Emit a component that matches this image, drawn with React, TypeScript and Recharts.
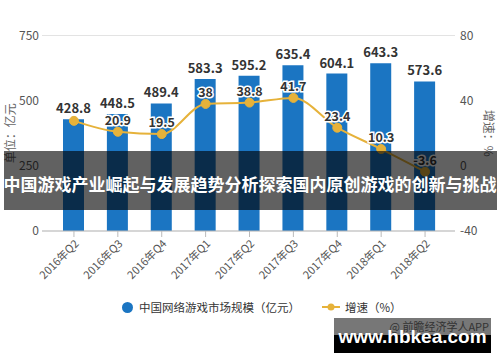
import React from 'react';
import {
  ComposedChart,
  Bar,
  Line,
  XAxis,
  YAxis,
  CartesianGrid,
  LabelList,
} from 'recharts';

const quarters = [
  '2016年Q2',
  '2016年Q3',
  '2016年Q4',
  '2017年Q1',
  '2017年Q2',
  '2017年Q3',
  '2017年Q4',
  '2018年Q1',
  '2018年Q2',
];
const marketSize = [428.8, 448.5, 489.4, 583.3, 595.2, 635.4, 604.1, 643.3, 573.6];
const growth = [27.6, 20.9, 19.5, 38, 38.8, 41.7, 23.4, 10.3, -3.6];
const leftTicks = [0, 250, 500, 750];
const rightTicks = [-40, 0, 40, 80];

const BLUE = '#1b75c2';
const GOLD = '#e6b23a';
const FONT = "'Noto Sans CJK SC', 'Noto Sans', sans-serif";

const data = quarters.map((q, i) => ({ name: q, size: marketSize[i], rate: growth[i] }));

// growth labels get a white halo; the first one sits under the bar label in the source
const renderRateLabel = (props: any) => {
  const { x, y, value, index } = props;
  if (index === 0) return null;
  return (
    <text
      x={x}
      y={y - 7}
      textAnchor="middle"
      fontSize={12.5}
      fontWeight={600}
      fontFamily={FONT}
      fill="#333"
      stroke="#fff"
      strokeWidth={3}
      paintOrder="stroke"
    >
      {value}
    </text>
  );
};

export default function App() {
  return (
    <div
      style={{
        position: 'fixed',
        left: 0,
        top: 0,
        width: 500,
        height: 362,
        background: '#fff',
        overflow: 'hidden',
        fontFamily: FONT,
      }}
    >
      <ComposedChart
        width={500}
        height={362}
        data={data}
        margin={{ top: 35.5, right: 0, bottom: 71, left: 0 }}
      >
        <CartesianGrid vertical={false} stroke="#e3e3e3" />
        <XAxis
          dataKey="name"
          height={60}
          interval={0}
          angle={-45}
          textAnchor="end"
          padding={{ left: 10, right: 8 }}
          tick={{ fontSize: 11, fill: '#555', fontFamily: FONT }}
          stroke="#bbb"
        />
        <YAxis
          yAxisId="left"
          width={42}
          domain={[0, 750]}
          ticks={leftTicks}
          axisLine={false}
          tickLine={false}
          tickSize={0}
          tickMargin={3}
          tick={{ fontSize: 12, fill: '#555', fontFamily: FONT }}
          label={{
            value: '单位：亿元',
            angle: -90,
            position: 'insideLeft',
            offset: 11,
            style: { fontSize: 12, fill: '#666', fontFamily: FONT, textAnchor: 'middle' },
          }}
        />
        <YAxis
          yAxisId="right"
          orientation="right"
          width={45}
          domain={[-40, 80]}
          ticks={rightTicks}
          axisLine={false}
          tickLine={false}
          tickSize={0}
          tickMargin={5}
          tick={{ fontSize: 12, fill: '#555', fontFamily: FONT }}
          label={{
            value: '增速：%',
            angle: 90,
            position: 'insideRight',
            offset: 12,
            style: { fontSize: 12, fill: '#666', fontFamily: FONT, textAnchor: 'middle' },
          }}
        />
        <Bar yAxisId="left" dataKey="size" fill={BLUE} barSize={21} isAnimationActive={false}>
          <LabelList
            dataKey="size"
            position="top"
            offset={6}
            style={{ fontSize: 13, fontWeight: 600, fill: '#333', fontFamily: FONT }}
          />
        </Bar>
        <Line
          yAxisId="right"
          type="monotone"
          dataKey="rate"
          stroke={GOLD}
          strokeWidth={2}
          dot={{ r: 4.5, fill: GOLD, stroke: GOLD, strokeWidth: 1 }}
          isAnimationActive={false}
        >
          <LabelList dataKey="rate" content={renderRateLabel} />
        </Line>
      </ComposedChart>

      {/* legend */}
      <div
        style={{
          position: 'absolute',
          top: 299,
          left: 122,
          display: 'flex',
          alignItems: 'center',
          fontSize: 11.5,
          color: '#333',
          whiteSpace: 'nowrap',
        }}
      >
        <span
          style={{ width: 11, height: 11, borderRadius: '50%', background: BLUE, display: 'inline-block', marginRight: 6 }}
        />
        <span>中国网络游戏市场规模（亿元）</span>
        <svg width={18} height={10} style={{ marginLeft: 22, marginRight: 5 }}>
          <line x1={0} y1={5} x2={18} y2={5} stroke={GOLD} strokeWidth={2} />
          <circle cx={9} cy={5} r={3.5} fill={GOLD} />
        </svg>
        <span>增速（%）</span>
      </div>

      {/* title banner */}
      <div
        style={{
          position: 'absolute',
          left: 4,
          top: 151,
          width: 493,
          height: 59,
          background: 'rgba(0,0,0,0.62)',
        }}
      />
      <div
        style={{
          position: 'absolute',
          left: 0,
          top: 171,
          width: 500,
          textAlign: 'center',
          color: '#fff',
          fontSize: 17,
          fontWeight: 700,
          lineHeight: '26px',
          whiteSpace: 'nowrap',
        }}
      >
        中国游戏产业崛起与发展趋势分析探索国内原创游戏的创新与挑战
      </div>

      {/* source stamp */}
      <div
        style={{
          position: 'absolute',
          left: 334,
          top: 318,
          width: 157,
          height: 17,
          background: '#777',
          color: '#333',
          fontSize: 11,
          lineHeight: '17px',
          textAlign: 'right',
          paddingRight: 2,
          boxSizing: 'border-box',
        }}
      >
        @ 前瞻经济学人APP
      </div>
      <div
        style={{
          position: 'absolute',
          left: 334,
          top: 335,
          width: 157,
          height: 18,
          background: '#000',
        }}
      />
      <div
        style={{
          position: 'absolute',
          left: 334,
          top: 325,
          width: 157,
          textAlign: 'center',
          color: '#fff',
          fontSize: 19,
          fontWeight: 700,
          lineHeight: '24px',
          fontFamily: "'Liberation Sans', Arial, sans-serif",
        }}
      >
        www.hbkea.com
      </div>
    </div>
  );
}
